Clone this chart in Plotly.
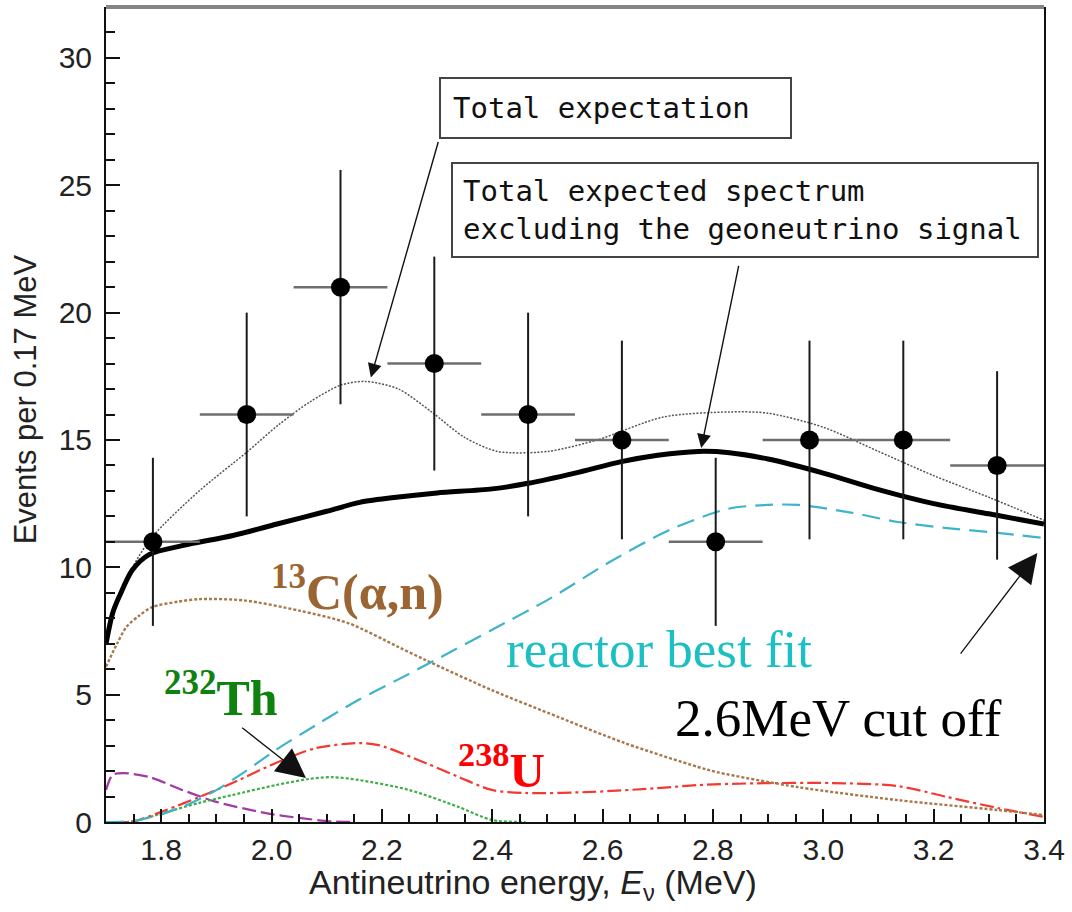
import plotly.graph_objects as go

# Measured event counts per 0.17 MeV bin
bin_centers = [1.785, 1.955, 2.125, 2.295, 2.465, 2.635, 2.805, 2.975, 3.145, 3.315]
events = [11, 16, 21, 18, 16, 15, 11, 15, 15, 14]
events_err = [3.3, 4.0, 4.6, 4.2, 4.0, 3.9, 3.3, 3.9, 3.9, 3.7]
bin_half_width = [0.085] * len(bin_centers)

# Total expectation (thin dotted)
total_e = [1.700, 1.724, 1.748, 1.784, 1.869, 1.954, 2.013, 2.07, 2.125, 2.17, 2.23, 2.29,
           2.35, 2.41, 2.50, 2.59, 2.71, 2.83, 2.90, 3.00, 3.10, 3.20, 3.30, 3.40]
total_v = [7.0, 8.9, 10.0, 11.2, 13.0, 14.5, 15.6, 16.5, 17.15, 17.3, 17.0, 16.1,
           15.1, 14.55, 14.55, 15.0, 15.9, 16.1, 16.05, 15.5, 14.55, 13.6, 12.75, 11.85]

# Total expected spectrum excluding the geoneutrino signal (bold)
nongeo_e = [1.700, 1.712, 1.724, 1.748, 1.778, 1.838, 1.93, 2.01, 2.10, 2.16, 2.23, 2.30,
            2.40, 2.465, 2.55, 2.634, 2.70, 2.773, 2.83, 2.90, 3.00, 3.10, 3.20, 3.30, 3.40]
nongeo_v = [7.0, 8.2, 8.85, 9.9, 10.5, 10.85, 11.25, 11.7, 12.2, 12.55, 12.76, 12.92,
            13.08, 13.3, 13.7, 14.15, 14.4, 14.55, 14.5, 14.25, 13.7, 13.05, 12.5, 12.1, 11.7]

# Reactor best fit
reactor_e = [1.70, 1.75, 1.80, 1.85, 1.90, 1.95, 2.008, 2.08, 2.158, 2.23, 2.297, 2.399,
             2.507, 2.616, 2.725, 2.828, 2.90, 2.954, 3.05, 3.135, 3.22, 3.316, 3.40]
reactor_v = [0.0, 0.05, 0.3, 0.7, 1.25, 1.95, 2.83, 3.8, 4.8, 5.6, 6.36, 7.54,
             8.8, 10.25, 11.5, 12.3, 12.45, 12.45, 12.15, 11.78, 11.55, 11.35, 11.15]

# 13C(alpha,n) background
carbon_e = [1.70, 1.72, 1.737, 1.76, 1.784, 1.83, 1.869, 1.95, 2.05, 2.14, 2.23, 2.279,
            2.399, 2.52, 2.64, 2.773, 2.809, 2.954, 3.135, 3.316, 3.40]
carbon_v = [6.1, 7.0, 7.66, 8.1, 8.44, 8.65, 8.75, 8.7, 8.3, 7.8, 6.87, 6.36,
            5.18, 4.12, 3.1, 2.16, 1.95, 1.37, 0.86, 0.47, 0.27]

# 238U geoneutrinos
uranium_e = [1.70, 1.748, 1.809, 1.869, 1.929, 2.008, 2.08, 2.158, 2.194, 2.279, 2.339,
             2.399, 2.46, 2.58, 2.70, 2.773, 2.88, 3.014, 3.135, 3.225, 3.316, 3.40]
uranium_v = [0.0, 0.02, 0.47, 0.98, 1.53, 2.32, 2.9, 3.1, 3.02, 2.32, 1.77,
             1.26, 1.14, 1.18, 1.33, 1.45, 1.52, 1.53, 1.41, 0.98, 0.55, 0.2]

# 232Th geoneutrinos
thorium_e = [1.70, 1.748, 1.809, 1.869, 1.929, 2.008, 2.068, 2.11, 2.158, 2.249, 2.339, 2.399, 2.46]
thorium_v = [0.0, 0.02, 0.39, 0.75, 1.06, 1.45, 1.69, 1.76, 1.65, 1.26, 0.59, 0.08, 0.0]

# Low-energy component (purple)
low_e = [1.700, 1.712, 1.73, 1.778, 1.838, 1.90, 1.99, 2.05, 2.11, 2.15]
low_v = [1.26, 1.85, 1.92, 1.77, 1.26, 0.79, 0.35, 0.16, 0.02, 0.0]

x_ticks = [1.8, 2.0, 2.2, 2.4, 2.6, 2.8, 3.0, 3.2, 3.4]
x_tick_text = ["1.8", "2.0", "2.2", "2.4", "2.6", "2.8", "3.0", "3.2", "3.4"]
y_ticks = [0, 5, 10, 15, 20, 25, 30]
y_tick_text = ["0", "5", "10", "15", "20", "25", "30"]

AX_FONT = "Liberation Sans, Arial, sans-serif"
SERIF = "Liberation Serif, Times New Roman, serif"
BOX_FONT = "DejaVu Sans Mono, Liberation Mono, monospace"

fig = go.Figure()


def curve(xs, ys, color, width, dash):
    fig.add_trace(go.Scatter(x=xs, y=ys, mode="lines",
                             line=dict(color=color, width=width, dash=dash, shape="spline", smoothing=0.8),
                             hoverinfo="skip", showlegend=False))


curve(low_e, low_v, "#a23aa6", 2.2, "14px,5px")
curve(thorium_e, thorium_v, "#3fae48", 2.2, "3px,2px")
curve(uranium_e, uranium_v, "#f23a32", 2.2, "14px,4px,3px,4px")
curve(carbon_e, carbon_v, "#a8774a", 2.4, "3px,2px")
curve(reactor_e, reactor_v, "#3eb4c8", 2.2, "18px,9px")
curve(total_e, total_v, "#555555", 1.5, "2px,1.5px")
curve(nongeo_e, nongeo_v, "#000000", 5, "solid")

# Data points with statistical and bin-width error bars
fig.add_trace(go.Scatter(
    x=bin_centers, y=events, mode="markers",
    marker=dict(color="black", size=19),
    error_y=dict(type="data", array=events_err, color="#1a1a1a", thickness=2, width=0),
    error_x=dict(type="data", array=bin_half_width, color="#6e6e6e", thickness=2.5, width=0),
    hoverinfo="skip", showlegend=False))

ann = []

# Boxed labels
ann.append(dict(x=2.3032, y=29.25, xref="x", yref="y", xanchor="left", yanchor="top",
                text="Total expectation", showarrow=False, align="left", width=325,
                font=dict(family=BOX_FONT, size=29, color="#111111"),
                bordercolor="#444444", borderwidth=2, borderpad=12, bgcolor="white"))
ann.append(dict(x=2.3249, y=25.91, xref="x", yref="y", xanchor="left", yanchor="top",
                text="Total expected spectrum<br>excluding the geoneutrino signal", showarrow=False,
                align="left", width=564, font=dict(family=BOX_FONT, size=29, color="#111111"),
                bordercolor="#444444", borderwidth=2, borderpad=10, bgcolor="white"))

# Arrows
def arrow(tip_x, tip_y, tail_x, tail_y, width, size, head):
    ann.append(dict(x=tip_x, y=tip_y, ax=tail_x, ay=tail_y, xref="x", yref="y",
                    axref="x", ayref="y", text=" ", font=dict(size=2), showarrow=True,
                    arrowhead=head, arrowwidth=width, arrowsize=size, arrowcolor="#111111",
                    standoff=0, borderpad=0))


arrow(2.18, 17.45, 2.3032, 26.78, 1.4, 2.0, 2)
arrow(2.7787, 14.68, 2.8474, 21.91, 1.4, 2.0, 2)
arrow(2.0624, 1.73, 1.945, 3.73, 1.3, 4.5, 2)
arrow(3.388, 10.56, 3.247, 6.56, 1.3, 4.5, 2)

# Component labels
ann.append(dict(x=1.9957, y=9.15, xref="x", yref="y", xanchor="left", yanchor="middle",
                text="<b><sup>13</sup>C(α,n)</b>", showarrow=False,
                font=dict(family=SERIF, size=50, color="#9a6532")))
ann.append(dict(x=2.4207, y=6.8, xref="x", yref="y", xanchor="left", yanchor="middle",
                text="reactor best fit", showarrow=False,
                font=dict(family=SERIF, size=53, color="#1cc0c4")))
ann.append(dict(x=2.7282, y=4.1, xref="x", yref="y", xanchor="left", yanchor="middle",
                text="2.6MeV cut off", showarrow=False,
                font=dict(family=SERIF, size=53, color="#000000")))
ann.append(dict(x=1.802, y=4.99, xref="x", yref="y", xanchor="left", yanchor="middle",
                text="<b><sup>232</sup>Th</b>", showarrow=False,
                font=dict(family=SERIF, size=50, color="#0e820e")))
ann.append(dict(x=2.334, y=2.16, xref="x", yref="y", xanchor="left", yanchor="middle",
                text="<b><sup>238</sup>U</b>", showarrow=False,
                font=dict(family=SERIF, size=49, color="#ff0000")))

# Axis titles
ann.append(dict(x=0.4554, y=-0.0773, xref="paper", yref="paper", xanchor="center", yanchor="middle",
                text="Antineutrino energy, <i>E</i><sub>ν</sub> (MeV)", showarrow=False,
                font=dict(family=AX_FONT, size=34, color="#222222")))
ann.append(dict(x=-0.086, y=0.519, xref="paper", yref="paper", xanchor="center", yanchor="middle",
                text="Events per 0.17 MeV", showarrow=False, textangle=-90,
                font=dict(family=AX_FONT, size=31, color="#222222")))

fig.update_layout(
    width=1072, height=912,
    margin=dict(l=106, r=24, t=7, b=90),
    paper_bgcolor="white", plot_bgcolor="white",
    annotations=ann,
    shapes=[dict(type="line", xref="paper", yref="paper", x0=0, x1=1, y0=1, y1=1,
                 line=dict(color="#858585", width=4))],
)

fig.update_xaxes(
    range=[1.7, 3.4], showgrid=False, zeroline=False,
    showline=True, linecolor="#111111", linewidth=2, mirror=False,
    tickmode="array", tickvals=x_ticks, ticktext=x_tick_text,
    ticks="inside", ticklen=13, tickwidth=2, tickcolor="#111111",
    minor=dict(dtick=0.05, tick0=1.7, ticks="inside", ticklen=8, tickwidth=2, tickcolor="#111111"),
    tickfont=dict(family=AX_FONT, size=30, color="#222222"),
)
fig.update_yaxes(
    range=[0, 32], showgrid=False, zeroline=False,
    showline=True, linecolor="#111111", linewidth=2, mirror=True,
    tickmode="array", tickvals=y_ticks, ticktext=y_tick_text,
    ticks="inside", ticklen=14, tickwidth=2, tickcolor="#111111",
    minor=dict(dtick=1, tick0=0, ticks="inside", ticklen=9, tickwidth=2, tickcolor="#111111"),
    tickfont=dict(family=AX_FONT, size=30, color="#222222"),
    ticklabelstandoff=6,
)

fig.write_html("out.html")
